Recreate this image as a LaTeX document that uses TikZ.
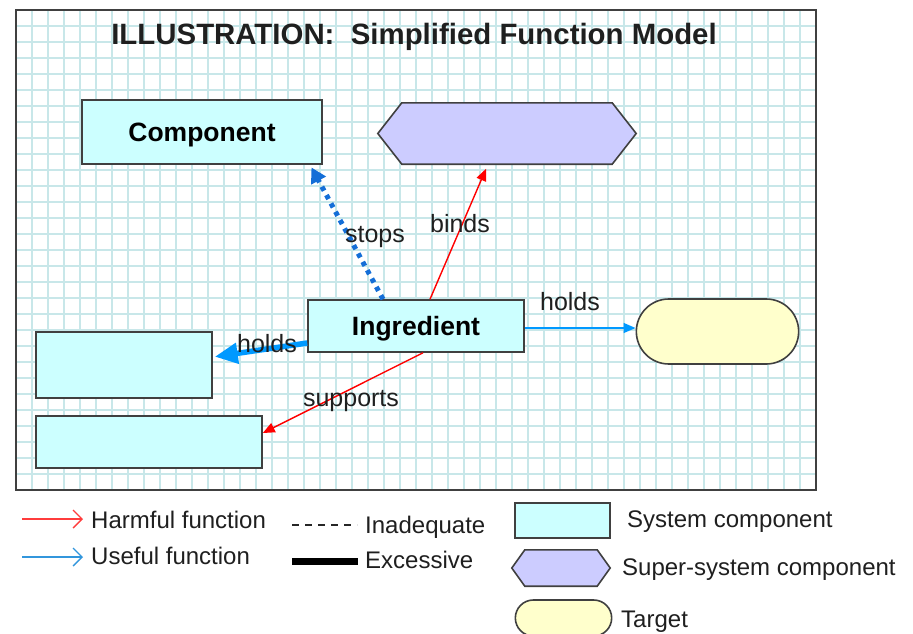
\documentclass[tikz,border=0pt]{standalone}
\usepackage{fontspec}
\setmainfont{Liberation Sans}
\usepackage{xcolor}
\usepackage{tikz}
\usetikzlibrary{shapes.misc, arrows.meta, calc}
\definecolor{gridcyan}{RGB}{200,231,233}
\definecolor{framegray}{RGB}{64,64,64}
\definecolor{sysfill}{RGB}{204,255,255}
\definecolor{superfill}{RGB}{204,204,255}
\definecolor{goalfill}{RGB}{255,255,204}
\definecolor{usefulblue}{RGB}{0,153,255}
\definecolor{stopblue}{RGB}{20,110,215}
\definecolor{keyred}{RGB}{255,60,60}
\definecolor{keyblue}{RGB}{50,150,220}

\begin{document}
\begin{tikzpicture}
  [
    x=1pt, y=-1pt,
    Sys/.style={rectangle, draw=framegray, fill=sysfill, line width=1.6pt, text depth=0pt, font=\fontsize{26.5}{30}\selectfont\bfseries},
    Super/.style={rectangle, inner sep=0pt},
    Goal/.style={rounded rectangle, draw=framegray, fill=goalfill, line width=1.6pt},
    Tag/.style={anchor=base, inner sep=0pt, text=black!88, font=\fontsize{25}{29}\selectfont},
    Key/.style={anchor=base west, inner sep=0pt, text=black!88, font=\fontsize{24}{28}\selectfont},
    Harm/.style={draw=red, line width=1.4pt, -{Triangle[length=12pt, width=10pt]}},
    Use/.style={draw=usefulblue, line width=1.4pt, -{Triangle[length=12pt, width=10pt]}},
    Excess/.style={draw=usefulblue, line width=5.5pt, -{Triangle[length=23pt, width=20pt]}},
    Stop/.style={draw=stopblue, line width=5pt, dash pattern=on 4.5pt off 5pt, -{Triangle[length=15pt, width=16pt]}}
  ]
  \useasboundingbox (0,0) rectangle (913,634);
  % Board
  \begin{scope}[shift={(16,10)}]
    \draw[gridcyan, line width=1.6pt, step=16pt] (0,480) grid (800,0);
  \end{scope}
  \node[draw=framegray, line width=2pt, minimum width=800pt, minimum height=480pt] (board) at (416, 250) {};
  \node[anchor=base, text=black!88, font=\fontsize{29.4}{34}\selectfont\bfseries] (title) at (414, 45) {ILLUSTRATION:\ \ Simplified Function Model};
  % Nodes
  \node[Sys, minimum width=240pt, minimum height=64pt] (comp) at (202, 132) {Component};
  \node[Super, minimum width=258pt, minimum height=61pt] (super) at (507, 133.5) {};
  \path[draw=framegray, fill=superfill, line width=1.6pt] (super.west) -- ([xshift=24pt]super.north west) -- ([xshift=-24pt]super.north east) -- (super.east) -- ([xshift=-24pt]super.south east) -- ([xshift=24pt]super.south west) -- cycle;
  \node[Sys, minimum width=216pt, minimum height=52pt] (ingr) at (416, 326) {Ingredient};
  \node[Goal, minimum width=169pt, minimum height=65pt] (goal) at (717.5, 331.5) {};
  \node[Sys, minimum width=176pt, minimum height=66pt] (boxa) at (124, 365) {};
  \node[Sys, minimum width=226pt, minimum height=52pt] (boxb) at (149, 442) {};
  % Lines
  \path [Stop, shorten >=3pt] ([xshift=-33pt]ingr.north) -- ([xshift=108pt]comp.south);
  \path [Harm, shorten >=5pt] ([xshift=14pt]ingr.north) -- ([xshift=-19pt]super.south);
  \path [Use] ([yshift=-2pt]ingr.east) -- ([yshift=3.5pt]goal.west);
  \path [Excess, shorten >=2pt] ([yshift=-17pt]ingr.west) -- ([yshift=8pt]boxa.east);
  \path [Harm] ([xshift=7pt]ingr.south) -- ([yshift=9pt]boxb.east);
  % Labels
  \node[Tag] (lstops) at (375, 242) {stops};
  \node[Tag] (lbinds) at (460, 232) {binds};
  \node[Tag] (lholdr) at (570, 310) {holds};
  \node[Tag] (lholdl) at (267, 352) {holds};
  \node[Tag] (lsupp) at (351, 406) {supports};
  % Legend
  \coordinate (kh) at (22, 519);
  \coordinate (ku) at (22, 557);
  \coordinate (ki) at (292, 525);
  \coordinate (ke) at (292, 561);
  \node[Key] (harm) at (91, 528) {Harmful function};
  \node[Key] (useful) at (91, 564) {Useful function};
  \node[Key] (inad) at (365, 533) {Inadequate};
  \node[Key] (exc) at (365, 568) {Excessive};
  \path [draw=keyred, line width=1.4pt, -{Straight Barb[length=9pt, width=18pt]}, shorten >=8pt] (kh) -- (harm.west |- kh);
  \path [draw=keyblue, line width=1.4pt, -{Straight Barb[length=9pt, width=18pt]}, shorten >=8pt] (ku) -- (useful.west |- ku);
  \path [draw=black!85, line width=1.3pt, dash pattern=on 7pt off 6pt, shorten >=8pt] (ki) -- (inad.west |- ki);
  \path [draw=black, line width=7pt, shorten >=7pt] (ke) -- (exc.west |- ke);
  \node[Sys, minimum width=95pt, minimum height=35pt] (keysys) at (562.5, 520.5) {};
  \node[Super, minimum width=98pt, minimum height=36pt] (keysuper) at (561, 568) {};
  \path[draw=framegray, fill=superfill, line width=1.6pt] (keysuper.west) -- ([xshift=13pt]keysuper.north west) -- ([xshift=-13pt]keysuper.north east) -- (keysuper.east) -- ([xshift=-13pt]keysuper.south east) -- ([xshift=13pt]keysuper.south west) -- cycle;
  \node[Goal, minimum width=103pt, minimum height=36pt] (keygoal) at (563.5, 618) {};
  \node[Key] (tsys) at (627, 527) {System component};
  \node[Key] (tsuper) at (622, 575) {Super-system component};
  \node[Key] (tgoal) at (621, 627) {Target};
\end{tikzpicture}
\end{document}
